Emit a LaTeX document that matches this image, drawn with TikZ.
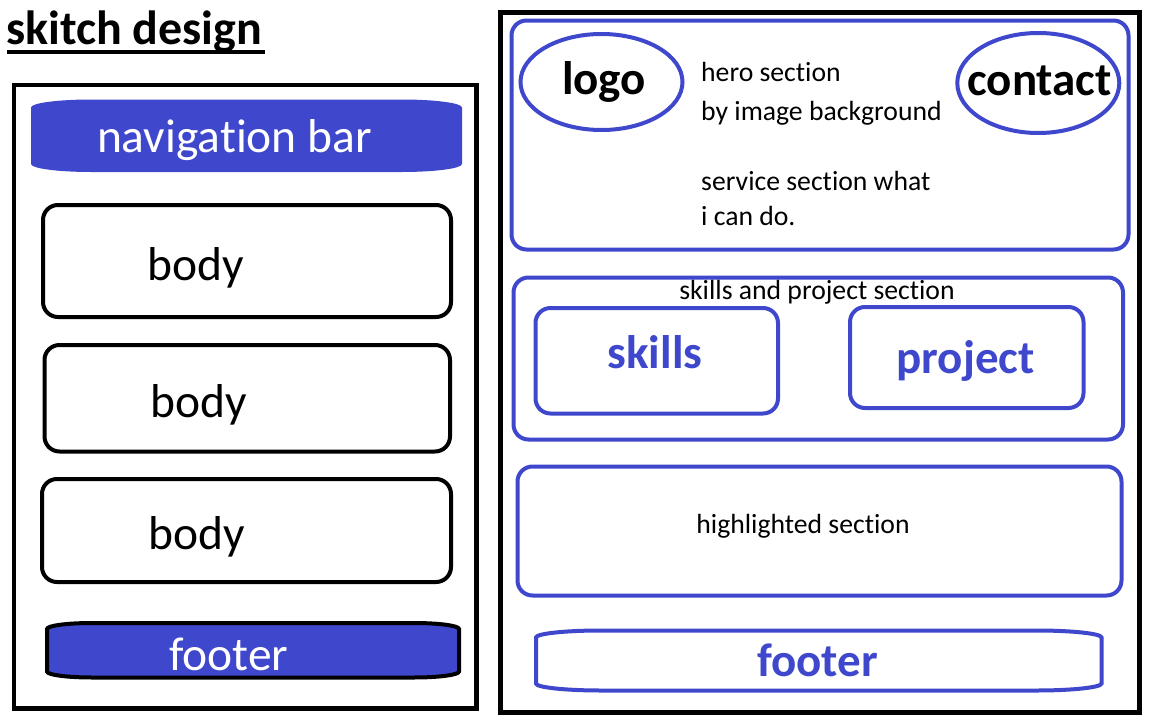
\documentclass[tikz,border=0pt]{standalone}
\usepackage{fontspec}
\setmainfont{Carlito}[Ligatures=NoCommon]
\usetikzlibrary{shapes.geometric}
\definecolor{paintblue}{RGB}{63,72,204}

% rectangle with flattened elliptical corners: x1,y1,x2,y2,rx,ry
\newcommand{\barrelpath}[6]{%
  (#1,#2+#6) .. controls (#1,#2+0.448*#6) and (#1+0.448*#5,#2) .. (#1+#5,#2)
  -- (#3-#5,#2) .. controls (#3-0.448*#5,#2) and (#3,#2+0.448*#6) .. (#3,#2+#6)
  -- (#3,#4-#6) .. controls (#3,#4-0.448*#6) and (#3-0.448*#5,#4) .. (#3-#5,#4)
  -- (#1+#5,#4) .. controls (#1+0.448*#5,#4) and (#1,#4-0.448*#6) .. (#1,#4-#6) -- cycle}

\tikzset{
  frame/.style={draw=black, line width=4.5pt, rectangle, inner sep=0pt, outer sep=0pt},
  sketchbox/.style={draw=#1, line width=4pt, rectangle, rounded corners=15pt, inner sep=0pt, outer sep=0pt},
  oval/.style={draw=paintblue, line width=4pt, ellipse, inner sep=0pt, outer sep=0pt},
  bigtext/.style={font=\fontsize{47.5}{56}\selectfont, inner sep=0pt, anchor=base},
  bigbold/.style={font=\fontsize{47}{56}\selectfont\bfseries, inner sep=0pt, anchor=base},
  smalltext/.style={font=\fontsize{27.7}{32}\selectfont, inner sep=0pt, anchor=base west},
}

\begin{document}
\begin{tikzpicture}[x=1pt, y=-1pt]
\useasboundingbox[fill=white] (0,0) rectangle (1152,720);

% ---- title ----
\node[bigbold, font=\fontsize{48}{56}\selectfont\bfseries, anchor=base west] (title) at (6,45) {skitch design};
\draw[line width=4pt] (7,52) -- (265,52);

% ---- left layout ----
\node[frame, minimum width=462.5pt, minimum height=623.5pt] (leftframe) at (245.25,396.75) {};

\fill[paintblue] \barrelpath{31}{99.5}{462}{172}{60}{8};
\node[bigtext, text=white] (nav) at (234.5,152) {navigation bar};

\node[sketchbox=black, minimum width=408pt, minimum height=112pt] (body1) at (247,261) {};
\node[bigtext] (body1text) at (195.5,280) {body};

\node[sketchbox=black, minimum width=405.5pt, minimum height=106.5pt] (body2) at (247.25,398.25) {};
\node[bigtext] (body2text) at (199,417) {body};

\node[sketchbox=black, minimum width=409pt, minimum height=103pt] (body3) at (246.5,530.5) {};
\node[bigtext] (body3text) at (197,549.5) {body};

\filldraw[fill=paintblue, draw=black, line width=4pt] \barrelpath{47}{623}{459}{677.5}{45}{6};
\node[bigtext, text=white] (footleft) at (228.7,670.7) {footer};

% ---- right layout ----
\node[frame, minimum width=639pt, minimum height=700pt] (rightframe) at (820,362.5) {};

% hero block
\node[sketchbox=paintblue, minimum width=617pt, minimum height=229pt] (hero) at (820,135) {};
\node[oval, minimum width=162pt, minimum height=96pt] (logo) at (601.5,82) {};
\node[bigbold] (logotext) at (604,94) {logo};
\node[oval, minimum width=162pt, minimum height=100pt] (contact) at (1038.3,83) {};
\node[bigbold] (contacttext) at (1039.6,95) {contact};
\node[smalltext] (hero1) at (701,81) {hero section};
\node[smalltext] (hero2) at (701,120) {by image background};
\node[smalltext] (hero3) at (701,190.7) {service section what};
\node[smalltext] (hero4) at (701,225) {i can do.};

% skills and projects block
\node[sketchbox=paintblue, minimum width=609.5pt, minimum height=162pt] (skillsproj) at (818.25,358.5) {};
\node[smalltext, anchor=base] (sptext) at (817,299) {skills and project section};
\node[sketchbox=paintblue, minimum width=242.5pt, minimum height=105.5pt] (skills) at (656.75,360.75) {};
\node[bigbold, text=paintblue] (skillstext) at (655,368) {skills};
\node[sketchbox=paintblue, minimum width=233.5pt, minimum height=101pt] (project) at (966.75,357.5) {};
\node[bigbold, text=paintblue] (projecttext) at (965.5,373) {project};

% highlighted block
\node[sketchbox=paintblue, minimum width=604pt, minimum height=129pt] (highlight) at (819.5,531) {};
\node[smalltext, anchor=base] (hltext) at (803,533) {highlighted section};

% footer
\draw[draw=paintblue, line width=4pt] \barrelpath{536}{630.5}{1101.5}{690.5}{65}{7};
\node[bigbold, text=paintblue] (footright) at (817.5,676) {footer};
\end{tikzpicture}
\end{document}
